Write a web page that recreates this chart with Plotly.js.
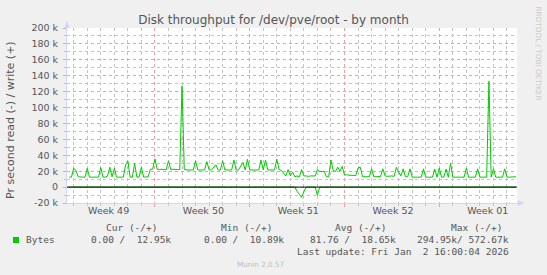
<!DOCTYPE html>
<html><head><meta charset="utf-8">
<script src="https://cdn.plot.ly/plotly-3.0.1.min.js"></script>
<style>html,body{margin:0;padding:0;background:#f0f0f0;}#chart{width:547px;height:275px;}</style>
</head><body><div id="chart"></div>
<script>
// ---- data ----
const weekLabels = ['Week 49', 'Week 50', 'Week 51', 'Week 52', 'Week 01'];
const weekLabelDays = [2.58, 9.58, 16.58, 23.58, 30.58]; // days after 2025-12-01 00:00
const yTickVals = [-20, 0, 20, 40, 60, 80, 100, 120, 140, 160, 180, 200];
const yTickText = ['-20 k', '0', '20 k', '40 k', '60 k', '80 k', '100 k', '120 k', '140 k', '160 k', '180 k', '200 k'];
const seriesStart = '2025-11-30T16:00:00Z';
const stepHours = 4;
// write bytes/s (in k), one value per 4 hours
const write = [
  12.5, 12.5, 23.6, 21, 13, 12.5, 12.5, 12.5, 23.6, 12.5,
  12.5, 12.5, 12.5, 12.5, 24.5, 12.5, 12.5, 14, 25, 13,
  23.6, 12.5, 12.5, 12.5, 12.5, 28, 33, 12.5, 12.5, 30,
  12.5, 12.5, 25, 12.5, 12.5, 13, 22.5, 22.5, 35.5, 22.5,
  22, 22.5, 22, 22, 33, 22, 22.5, 22, 22, 22,
  127, 22, 21.5, 21.5, 21.5, 21.5, 33, 21.5, 21.5, 21.5,
  21.5, 32, 21.5, 21.5, 25, 28, 21.5, 21.5, 33, 21.5,
  21.5, 21.5, 21.5, 34, 21.5, 21.5, 26, 31, 21.5, 35,
  21.5, 21.5, 21.5, 21.5, 21.5, 34, 21.5, 34, 21.5, 21.5,
  21.5, 21.5, 35, 22, 21, 17, 14, 22, 14, 19,
  13, 14, 13, 22, 14, 14, 13.5, 14, 14, 14,
  22, 19.5, 19.5, 20, 13, 13, 34, 21, 19.5, 25,
  20, 26, 15, 15.5, 15, 15, 14.5, 14.5, 24, 25,
  13, 13, 13, 13, 23, 13, 13, 13, 13.5, 23,
  14, 13.5, 14, 14, 13.5, 25, 19, 14, 23, 13,
  13, 23, 12.5, 12.5, 12.5, 12.5, 12.5, 23, 12.5, 12.5,
  12.5, 12.5, 22.6, 12.5, 24, 12.5, 12.5, 22.6, 12.5, 30,
  12.5, 12.5, 12.5, 12.5, 12.5, 12.5, 24, 12.5, 12.5, 12.5,
  12.5, 23, 12.5, 12.5, 12.5, 12.5, 133, 12.5, 23, 12.5,
  12.5, 12.5, 12.5, 23, 12.5, 12.5, 12.5, 12.5, 13
];
// read bytes/s (in k), drawn below zero
const read = [
  0, 0, 0, 0, 0, 0, 0, 0, 0, 0,
  0, 0, 0, 0, 0, 0, 0, 0, 0, 0,
  0, 0, 0, 0, 0, 0, 0, 0, 0, 0,
  0, 0, 0, 0, 0, 0, 0, 0, 0, 0,
  0, 0, 0, 0, 0, 0, 0, 0, 0, 0,
  0, 0, 0, 0, 0, 0, 0, 0, 0, 0,
  0, 0, 0, 0, 0, 0, 0, 0, 0, 0,
  0, 0, 0, 0, 0, 0, 0, 0, 0, 0,
  0, 0, 0, 0, 0, 0, 0, 0, 0, 0,
  0, 0, 0, 0, 0, 0, 0, 0, 0, 0,
  0, 5.5, 9, 13, 6, 0, 0, 0, 0, 0,
  10.5, 0, 0, 0, 0, 0, 0, 0, 0, 0,
  0, 0, 0, 0, 0, 0, 0, 0, 0, 0,
  0, 0, 0, 0, 0, 0, 0, 0, 0, 0,
  0, 0, 0, 0, 0, 0, 0, 0, 0, 0,
  0, 0, 0, 0, 0, 0, 0, 0, 0, 0,
  0, 0, 0, 0, 0, 0, 0, 0, 0, 0,
  0, 0, 0, 0, 0, 0, 0, 0, 0, 0,
  0, 0, 0, 0, 0, 0, 0, 0, 0, 0,
  0, 0, 0, 0, 0, 0, 0, 0, 0
];
const legendName = 'Bytes';
const legendHeaders = ['Cur (-/+)', 'Min (-/+)', 'Avg (-/+)', 'Max (-/+)'];
const legendValues = ['0.00 /  12.95k', '0.00 /  10.89k', '81.76 /  18.65k', '294.95k/ 572.67k'];
const lastUpdate = 'Last update: Fri Jan  2 16:00:04 2026';
const chartTitle = 'Disk throughput for /dev/pve/root - by month';
const yTitle = 'Pr second read (-) / write (+)';

// ---- helpers ----
const DAY = 86400000;
const monthStart = Date.parse('2025-12-01T00:00:00Z');
const toDate = ms => new Date(ms).toISOString().replace('T', ' ').replace('Z', '');
const startMs = Date.parse(seriesStart);
const times = write.map((_, i) => toDate(startMs + i * stepHours * 3600000));
const xRange = [toDate(monthStart - 0.495 * DAY), toDate(monthStart + 32.74 * DAY)];
const weekTickVals = weekLabelDays.map(d => toDate(monthStart + d * DAY));

const L = 67, R = 517, T = 28, B = 203;
const px = x => (x - L) / (R - L);
const py = y => (B - y) / (B - T);
const nb = s => s.replace(/ /g, '\u00a0');

const GREEN = '#00cc00';
const MG = '#e8a0a0';
const G = '#c4c4c4';
const AXIS = '#CFD6F8';
const FONTC = '#555555';
const DASH = 'dot';

const traces = [
  {x: times, y: write, type: 'scatter', mode: 'lines', name: legendName, xaxis: 'x', yaxis: 'y',
   line: {color: GREEN, width: 1}, hoverinfo: 'skip'},
  {x: times, y: read.map(v => -v), type: 'scatter', mode: 'lines', name: legendName, xaxis: 'x2', yaxis: 'y',
   line: {color: GREEN, width: 1}, hoverinfo: 'skip'}
];

const mono = {family: 'DejaVu Sans Mono', size: 9.5, color: FONTC};
const ann = [];
const headerRight = [157.5, 272.5, 387, 502.5];
const valueRight = [172, 284.5, 396.5, 509.5];
legendHeaders.forEach((h, k) => ann.push({xref: 'paper', yref: 'paper', x: px(headerRight[k]), y: py(227.7),
  xanchor: 'right', yanchor: 'middle', text: nb(h), showarrow: false, font: mono, borderpad: 0}));
legendValues.forEach((v, k) => ann.push({xref: 'paper', yref: 'paper', x: px(valueRight[k]), y: py(239.7),
  xanchor: 'right', yanchor: 'middle', text: nb(v), showarrow: false, font: mono, borderpad: 0}));
ann.push({xref: 'paper', yref: 'paper', x: px(24.5), y: py(239.7), xanchor: 'left', yanchor: 'middle',
  text: legendName, showarrow: false, font: mono, borderpad: 0});
ann.push({xref: 'paper', yref: 'paper', x: px(509.5), y: py(251.7), xanchor: 'right', yanchor: 'middle',
  text: nb(lastUpdate), showarrow: false, font: mono, borderpad: 0});
ann.push({xref: 'paper', yref: 'paper', x: px(260.7), y: py(264.3), xanchor: 'center', yanchor: 'middle',
  text: 'Munin 2.0.57', showarrow: false, font: {family: 'DejaVu Sans', size: 7.2, color: '#bdbdbd'}, borderpad: 0});
ann.push({xref: 'paper', yref: 'paper', x: px(538), y: py(53.5), xanchor: 'center', yanchor: 'middle', textangle: 90,
  text: 'RRDTOOL / TOBI OETIKER', showarrow: false, font: {family: 'DejaVu Sans', size: 7.3, color: '#cccccc'}, borderpad: 0});
ann.push({xref: 'paper', yref: 'paper', x: px(10.5), y: py(120.5), xanchor: 'center', yanchor: 'middle', textangle: -90,
  text: yTitle, showarrow: false, font: {family: 'DejaVu Sans', size: 11, color: FONTC}, borderpad: 0});

const shapes = [
  {type: 'line', xref: 'paper', yref: 'y', x0: 0, x1: 1, y0: 0, y1: 0, line: {color: '#000000', width: 1}, layer: 'above'},
  {type: 'line', xref: 'paper', yref: 'paper', x0: 0, x1: 0, y0: 1, y1: py(24), line: {color: AXIS, width: 1}},
  {type: 'path', xref: 'paper', yref: 'paper', fillcolor: AXIS, line: {color: AXIS, width: 0.5},
   path: `M ${px(64.5)} ${py(27.5)} L ${px(67)} ${py(21.5)} L ${px(69.5)} ${py(27.5)} Z`},
  {type: 'line', xref: 'paper', yref: 'paper', x0: 1, x1: px(519), y0: 0, y1: 0, line: {color: AXIS, width: 1}},
  {type: 'path', xref: 'paper', yref: 'paper', fillcolor: AXIS, line: {color: AXIS, width: 0.5},
   path: `M ${px(518)} ${py(200.5)} L ${px(523.5)} ${py(203)} L ${px(518)} ${py(205.5)} Z`},
  {type: 'rect', xref: 'paper', yref: 'paper', x0: px(13), x1: px(19), y0: py(243), y1: py(237),
   fillcolor: GREEN, line: {width: 0}}
];

const layout = {
  width: 547, height: 275,
  margin: {l: L, r: 547 - R, t: T, b: 275 - B, pad: 0},
  paper_bgcolor: '#f0f0f0', plot_bgcolor: '#ffffff',
  font: {family: 'DejaVu Sans', size: 9.5, color: FONTC},
  showlegend: false,
  title: {text: chartTitle, font: {family: 'DejaVu Sans', size: 12, color: FONTC},
          xref: 'container', x: 273.5 / 547, xanchor: 'center', yref: 'container', y: 1 - 19.3 / 275, yanchor: 'middle'},
  xaxis: {type: 'date', range: xRange, anchor: 'y', tickmode: 'linear', tick0: '2025-12-07', dtick: 7 * DAY,
          showticklabels: false, showgrid: true, gridcolor: MG, griddash: DASH, gridwidth: 1,
          ticks: 'outside', ticklen: 3, tickcolor: MG, showline: true, linecolor: AXIS, linewidth: 1,
          zeroline: false, fixedrange: true,
          minor: {tick0: '2025-12-01', dtick: DAY, showgrid: true, gridcolor: G, griddash: DASH, gridwidth: 1,
                  ticks: 'outside', ticklen: 2, tickcolor: G}},
  xaxis2: {type: 'date', overlaying: 'x', anchor: 'y', side: 'bottom', range: xRange,
           tickmode: 'array', tickvals: weekTickVals, ticktext: weekLabels, showgrid: false, ticks: '',
           tickfont: {family: 'DejaVu Sans', size: 9.5, color: FONTC}, showline: false, zeroline: false, fixedrange: true},
  yaxis: {range: [-20, 200], anchor: 'x', tickmode: 'linear', tick0: 0, dtick: 20,
          tickvals: yTickVals, ticktext: yTickText,
          showgrid: true, gridcolor: MG, griddash: DASH, gridwidth: 1,
          ticks: 'outside', ticklen: 3, tickcolor: MG, ticklabelstandoff: 3,
          showline: true, linecolor: AXIS, linewidth: 1, zeroline: false, fixedrange: true,
          tickfont: {family: 'DejaVu Sans', size: 9.5, color: FONTC},
          minor: {tick0: 0, dtick: 10, showgrid: true, gridcolor: G, griddash: DASH, gridwidth: 1,
                  ticks: 'outside', ticklen: 2, tickcolor: G}},
  shapes: shapes,
  annotations: ann
};
// array tick labels for y
layout.yaxis.tickmode = 'array';

Plotly.newPlot('chart', traces, layout, {staticPlot: true, displayModeBar: false});
</script></body></html>
